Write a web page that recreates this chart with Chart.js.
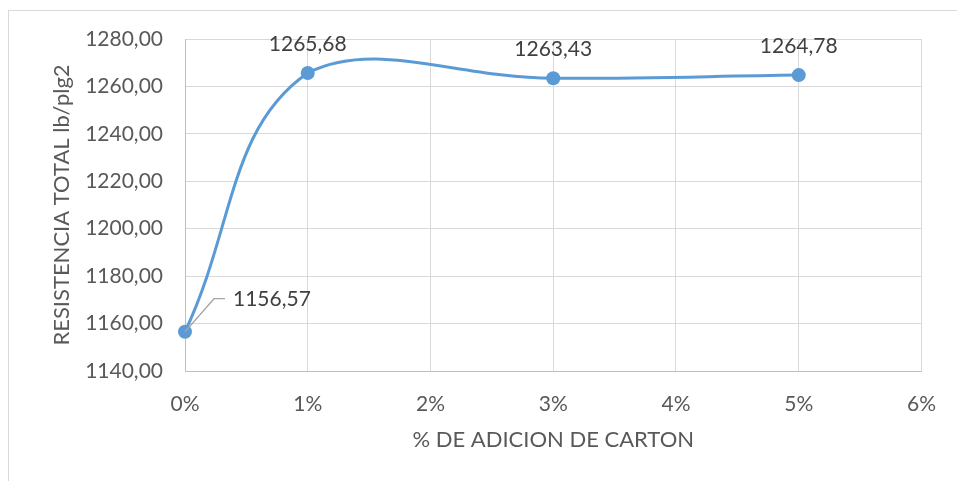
<!DOCTYPE html>
<html>
<head>
<meta charset="utf-8">
<script src="https://cdn.jsdelivr.net/npm/chart.js@4"></script>
<style>
  html, body { margin: 0; padding: 0; background: #fff; }
  #wrap { position: relative; width: 957px; height: 481px; }
  #frame { position: absolute; left: 8px; top: 10px; width: 960px; height: 480px; border: 1px solid #d9d9d9; }
  canvas { position: absolute; left: 0; top: 0; }
</style>
</head>
<body>
<div id="wrap">
  <div id="frame"></div>
  <canvas id="chart" width="957" height="481"></canvas>
</div>
<script>
// --- datos ---
const adicion = [0, 1, 3, 5];              // % de adición de cartón
const resistencia = [1156.57, 1265.68, 1263.43, 1264.78];
const yTicks = [1140, 1160, 1180, 1200, 1220, 1240, 1260, 1280];
const xTicks = [0, 1, 2, 3, 4, 5, 6];

const FONT = 'Lato, "Open Sans", sans-serif';
const fmt = v => v.toFixed(2).replace('.', ',');

// etiquetas de datos (la primera con línea guía)
const labelPlugin = {
    id: 'etiquetas',
    afterDatasetsDraw(chart) {
        const ctx = chart.ctx;
        const meta = chart.getDatasetMeta(0);
        ctx.save();
        ctx.font = '21px ' + FONT;
        ctx.fillStyle = '#404040';
        ctx.textBaseline = 'middle';
        meta.data.forEach((pt, i) => {
            const txt = fmt(resistencia[i]);
            if (i === 0) {
                ctx.strokeStyle = '#a6a6a6';
                ctx.lineWidth = 1.3;
                ctx.beginPath();
                ctx.moveTo(pt.x, pt.y);
                ctx.lineTo(pt.x + 29, pt.y - 33);
                ctx.lineTo(pt.x + 40, pt.y - 33);
                ctx.stroke();
                ctx.textAlign = 'left';
                ctx.fillText(txt, pt.x + 48, pt.y - 32);
            } else {
                ctx.textAlign = 'center';
                ctx.fillText(txt, pt.x, pt.y - 29);
            }
        });
        ctx.restore();
    }
};

new Chart(document.getElementById('chart'), {
    type: 'line',
    data: {
        datasets: [{
            data: adicion.map((x, i) => ({ x: x, y: resistencia[i] })),
            borderColor: '#5b9bd5',
            backgroundColor: '#5b9bd5',
            borderWidth: 3,
            pointRadius: 7,
            pointBorderWidth: 0,
            tension: 0.4,
            clip: false,
            fill: false
        }]
    },
    options: {
        responsive: false,
        animation: false,
        layout: { padding: { left: 0, top: 39, right: 32, bottom: 0 } },
        plugins: { legend: { display: false }, tooltip: { enabled: false } },
        scales: {
            x: {
                type: 'linear',
                min: 0, max: 6,
                afterBuildTicks: s => { s.ticks = xTicks.map(v => ({ value: v })); },
                afterFit: s => { s.height = 110; },
                grid: { color: '#d9d9d9', drawTicks: false },
                border: { color: '#bfbfbf' },
                ticks: { padding: 21, color: '#595959', font: { family: FONT, size: 21 }, callback: v => v + '%' },
                title: { display: true, text: '% DE ADICION DE CARTON', color: '#595959', font: { family: FONT, size: 22 }, padding: { bottom: 28 } }
            },
            y: {
                min: 1140, max: 1280,
                afterBuildTicks: s => { s.ticks = yTicks.map(v => ({ value: v })); },
                afterFit: s => { s.width = 185; },
                grid: { color: '#d9d9d9', drawTicks: false },
                border: { color: '#bfbfbf' },
                ticks: { padding: 22, color: '#595959', font: { family: FONT, size: 21 }, callback: v => fmt(v) },
                title: { display: true, text: 'RESISTENCIA TOTAL lb/plg2', color: '#595959', font: { family: FONT, size: 22 }, padding: { top: 49 } }
            }
        }
    },
    plugins: [labelPlugin]
});
</script>
</body>
</html>
